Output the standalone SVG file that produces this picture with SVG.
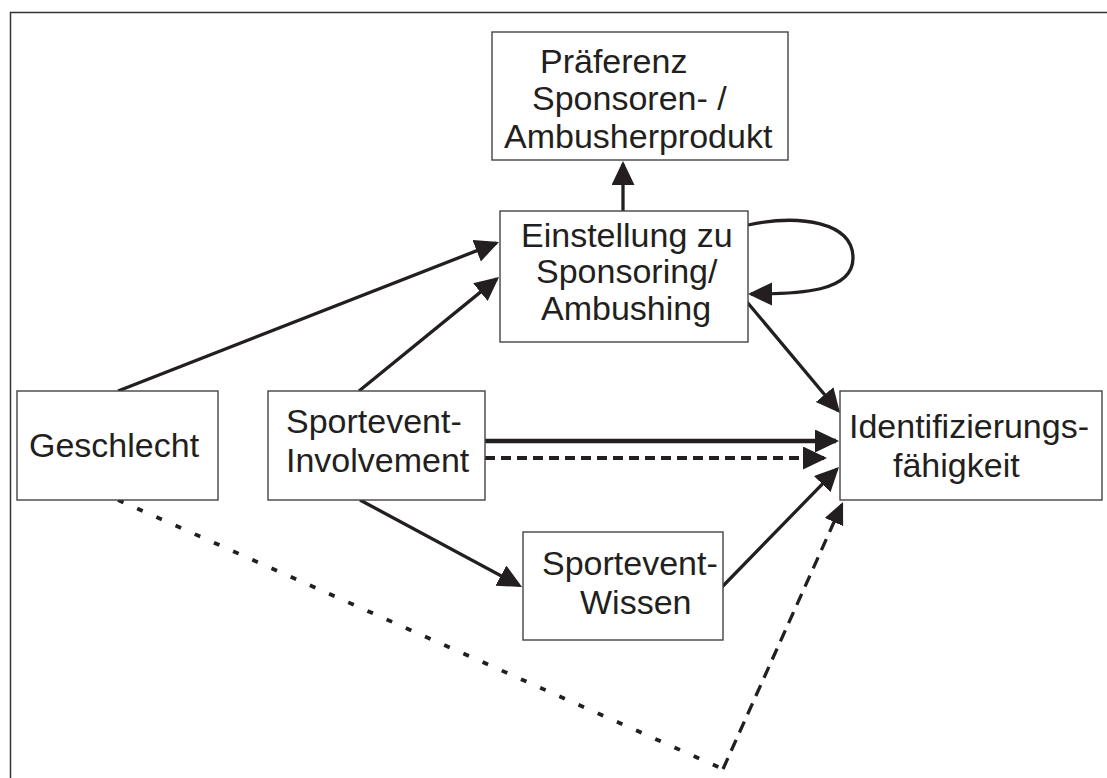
<svg xmlns="http://www.w3.org/2000/svg" width="1107" height="778" viewBox="0 0 1107 778">
<defs>
<style>
.box{fill:#fff;stroke:#444;stroke-width:1.4}
.lbl{font-family:"Liberation Sans",Arial,sans-serif;font-size:34px;fill:#231f20}
.c{fill:none;stroke:#231f20;stroke-width:3.3}
.thick{stroke-width:4.7}
.dash{stroke-dasharray:10 6;stroke-width:4}
.dot{stroke-dasharray:6 15;stroke-width:3.8}
.dash2{stroke-dasharray:12 8;stroke-width:3.3}
.frame{fill:none;stroke:#333;stroke-width:1.5}
</style>
<marker id="ah" markerUnits="userSpaceOnUse" markerWidth="26" markerHeight="24" refX="21" refY="11.5" orient="auto">
<path d="M0,0 L24,11.5 L0,23 Z" fill="#231f20" stroke="none"/>
</marker>
<marker id="ahs" markerUnits="userSpaceOnUse" markerWidth="24" markerHeight="22" refX="19" refY="10" orient="auto">
<path d="M0,0 L22,10 L0,20 Z" fill="#231f20" stroke="none"/>
</marker>
</defs>
<rect width="1107" height="778" fill="#fff"/>
<path class="frame" d="M10.5,778 L10.5,12.5 L1107,12.5"/>

<g id="connectors">
<line class="c" x1="118" y1="391" x2="496.2" y2="243.1" marker-end="url(#ah)"/>
<line class="c" x1="359" y1="391" x2="496.7" y2="278.9" marker-end="url(#ah)"/>
<line class="c" x1="623" y1="211" x2="623" y2="164" marker-end="url(#ah)"/>
<path class="c" d="M748,225 C800,214 853,222 853,258 C853,292 800,294 751,294" marker-end="url(#ah)"/>
<line class="c" x1="747" y1="302" x2="838.1" y2="410.7" marker-end="url(#ah)"/>
<line class="c thick" x1="485" y1="441" x2="836" y2="441" marker-end="url(#ah)"/>
<line class="c dash" x1="485" y1="458" x2="824" y2="458" marker-end="url(#ah)"/>
<line class="c" x1="360" y1="500" x2="519.4" y2="585.6" marker-end="url(#ah)"/>
<line class="c" x1="722" y1="587" x2="836.9" y2="469.1" marker-end="url(#ah)"/>
<line class="c dot" x1="118" y1="500" x2="723" y2="769"/>
<line class="c dash2" x1="723" y1="769" x2="841.8" y2="504.7" marker-end="url(#ahs)"/>
</g>

<g id="praeferenz">
<rect class="box" x="492" y="32" width="296" height="128"/>
<text class="lbl" x="540" y="73">Präferenz</text>
<text class="lbl" x="532" y="110">Sponsoren- /</text>
<text class="lbl" x="504" y="148">Ambusherprodukt</text>
</g>

<g id="einstellung">
<rect class="box" x="500" y="211" width="248" height="131"/>
<text class="lbl" x="521" y="247">Einstellung zu</text>
<text class="lbl" x="536" y="283">Sponsoring/</text>
<text class="lbl" x="541" y="320">Ambushing</text>
</g>

<g id="geschlecht">
<rect class="box" x="17" y="391" width="201" height="109"/>
<text class="lbl" x="29" y="457">Geschlecht</text>
</g>

<g id="involvement">
<rect class="box" x="268" y="391" width="217" height="109"/>
<text class="lbl" x="286" y="433">Sportevent-</text>
<text class="lbl" x="286" y="472">Involvement</text>
</g>

<g id="identifizierung">
<rect class="box" x="840" y="391" width="262" height="109"/>
<text class="lbl" x="849" y="438">Identifizierungs-</text>
<text class="lbl" x="893" y="477">fähigkeit</text>
</g>

<g id="wissen">
<rect class="box" x="523" y="532" width="200" height="108"/>
<text class="lbl" x="542" y="575">Sportevent-</text>
<text class="lbl" x="580" y="614">Wissen</text>
</g>
</svg>
